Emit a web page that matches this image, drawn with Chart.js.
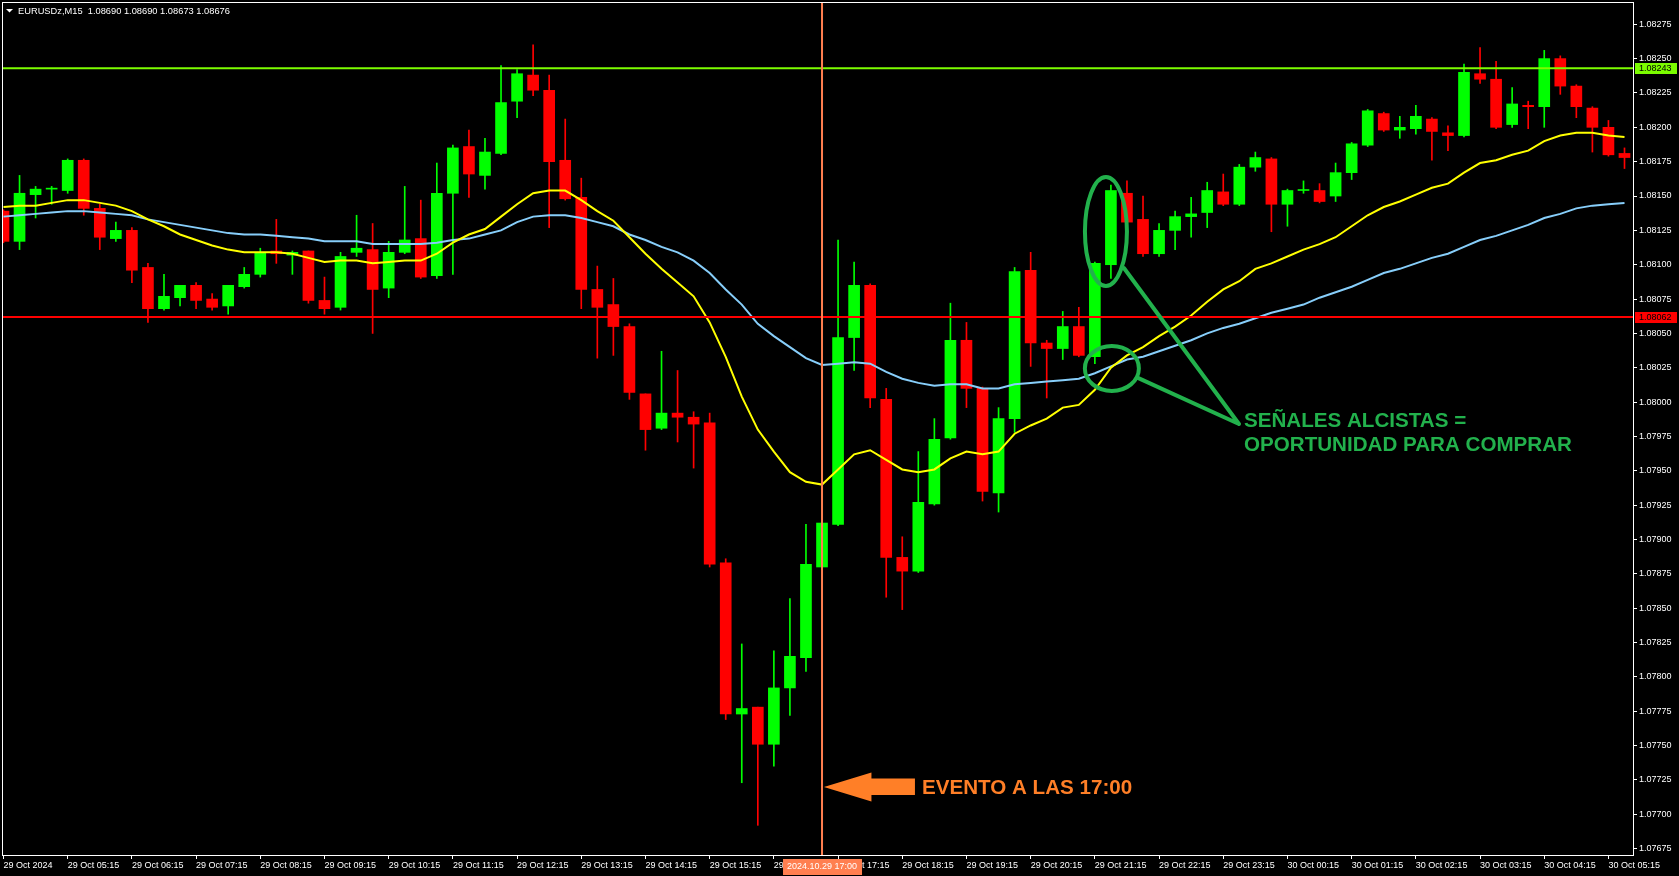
<!DOCTYPE html>
<html lang="es">
<head>
<meta charset="UTF-8">
<title>EURUSDz,M15</title>
<script src="https://cdn.jsdelivr.net/npm/chart.js"></script>
<style>
  html, body { margin: 0; padding: 0; background: #000; overflow: hidden; }
  #chart { display: block; }
</style>
</head>
<body>
<canvas id="chart" width="1679" height="876"></canvas>
<script>
// EURUSD 15 min candles, 29 Oct 2024 04:15 -> 30 Oct 05:30 (one entry per candle)
const opens = [
  1.08139, 1.08117, 1.08151, 1.08155, 1.08154, 1.08176, 1.08141, 1.08119, 1.08125, 1.08098,
  1.08068, 1.08076, 1.08085, 1.08075, 1.08070, 1.08084, 1.08093, 1.08110, 1.08107, 1.08110,
  1.08074, 1.08069, 1.08109, 1.08111, 1.08083, 1.08109, 1.08119, 1.08092, 1.08152, 1.08186,
  1.08165, 1.08181, 1.08219, 1.08238, 1.08227, 1.08176, 1.08149, 1.08082, 1.08071, 1.08055,
  1.08006, 1.07981, 1.07992, 1.07989, 1.07985, 1.07883, 1.07773, 1.07778, 1.07751, 1.07792,
  1.07814, 1.07880, 1.07911, 1.08047, 1.08085, 1.08002, 1.07887, 1.07877, 1.07926, 1.07974,
  1.08045, 1.08010, 1.07934, 1.07988, 1.08096, 1.08043, 1.08039, 1.08055, 1.08033, 1.08100,
  1.08152, 1.08133, 1.08108, 1.08125, 1.08135, 1.08138, 1.08153, 1.08144, 1.08171, 1.08177,
  1.08144, 1.08154, 1.08154, 1.08150, 1.08167, 1.08187, 1.08210, 1.08198, 1.08199, 1.08206,
  1.08196, 1.08194, 1.08239, 1.08235, 1.08202, 1.08216, 1.08215, 1.08250, 1.08230, 1.08214,
  1.08200, 1.08181
];
const highs = [
  1.08140, 1.08165, 1.08157, 1.08157, 1.08177, 1.08177, 1.08144, 1.08131, 1.08127, 1.08101,
  1.08093, 1.08085, 1.08087, 1.08079, 1.08085, 1.08098, 1.08112, 1.08133, 1.08110, 1.08110,
  1.08091, 1.08109, 1.08136, 1.08130, 1.08117, 1.08157, 1.08147, 1.08174, 1.08187, 1.08198,
  1.08192, 1.08245, 1.08242, 1.08260, 1.08238, 1.08206, 1.08163, 1.08099, 1.08090, 1.08057,
  1.08006, 1.08037, 1.08023, 1.07993, 1.07992, 1.07886, 1.07824, 1.07778, 1.07819, 1.07857,
  1.07911, 1.07913, 1.08118, 1.08102, 1.08086, 1.08010, 1.07902, 1.07964, 1.07988, 1.08072,
  1.08058, 1.08011, 1.07996, 1.08098, 1.08109, 1.08045, 1.08066, 1.08069, 1.08102, 1.08158,
  1.08161, 1.08150, 1.08130, 1.08139, 1.08149, 1.08160, 1.08166, 1.08173, 1.08182, 1.08178,
  1.08155, 1.08161, 1.08159, 1.08174, 1.08189, 1.08213, 1.08211, 1.08208, 1.08216, 1.08207,
  1.08201, 1.08246, 1.08258, 1.08248, 1.08229, 1.08219, 1.08256, 1.08252, 1.08231, 1.08215,
  1.08205, 1.08185
];
const lows = [
  1.08116, 1.08111, 1.08134, 1.08144, 1.08152, 1.08136, 1.08111, 1.08117, 1.08087, 1.08058,
  1.08067, 1.08070, 1.08068, 1.08067, 1.08064, 1.08083, 1.08091, 1.08101, 1.08093, 1.08072,
  1.08064, 1.08067, 1.08106, 1.08050, 1.08076, 1.08108, 1.08090, 1.08090, 1.08093, 1.08149,
  1.08155, 1.08180, 1.08207, 1.08223, 1.08127, 1.08147, 1.08068, 1.08032, 1.08034, 1.08002,
  1.07965, 1.07980, 1.07971, 1.07952, 1.07880, 1.07769, 1.07723, 1.07692, 1.07735, 1.07772,
  1.07804, 1.07878, 1.07910, 1.08023, 1.07996, 1.07858, 1.07849, 1.07876, 1.07925, 1.07973,
  1.07996, 1.07928, 1.07920, 1.07978, 1.08026, 1.08003, 1.08031, 1.08033, 1.08028, 1.08090,
  1.08125, 1.08106, 1.08106, 1.08111, 1.08120, 1.08127, 1.08143, 1.08143, 1.08168, 1.08124,
  1.08128, 1.08152, 1.08145, 1.08146, 1.08162, 1.08186, 1.08197, 1.08192, 1.08195, 1.08176,
  1.08183, 1.08193, 1.08232, 1.08199, 1.08200, 1.08199, 1.08200, 1.08224, 1.08207, 1.08182,
  1.08179, 1.08170
];
const closes = [
  1.08117, 1.08152, 1.08155, 1.08155, 1.08176, 1.08141, 1.08120, 1.08125, 1.08096, 1.08068,
  1.08077, 1.08085, 1.08074, 1.08069, 1.08085, 1.08093, 1.08109, 1.08108, 1.08109, 1.08074,
  1.08068, 1.08106, 1.08112, 1.08082, 1.08109, 1.08118, 1.08091, 1.08152, 1.08185, 1.08166,
  1.08182, 1.08218, 1.08239, 1.08227, 1.08175, 1.08148, 1.08082, 1.08069, 1.08055, 1.08007,
  1.07980, 1.07992, 1.07989, 1.07984, 1.07882, 1.07773, 1.07777, 1.07751, 1.07792, 1.07815,
  1.07882, 1.07912, 1.08047, 1.08085, 1.08003, 1.07887, 1.07877, 1.07927, 1.07973, 1.08045,
  1.08010, 1.07935, 1.07988, 1.08095, 1.08043, 1.08039, 1.08055, 1.08034, 1.08101, 1.08154,
  1.08131, 1.08108, 1.08125, 1.08135, 1.08137, 1.08154, 1.08144, 1.08171, 1.08178, 1.08144,
  1.08154, 1.08154, 1.08146, 1.08167, 1.08188, 1.08212, 1.08198, 1.08200, 1.08208, 1.08197,
  1.08194, 1.08240, 1.08235, 1.08200, 1.08217, 1.08215, 1.08250, 1.08230, 1.08215, 1.08200,
  1.08180, 1.08178
];

// moving averages as drawn on the chart (yellow = fast, light blue = slow)
const maFast = [
  1.08142, 1.08143, 1.08143, 1.08145, 1.08147, 1.08147, 1.08145, 1.08143, 1.08139, 1.08133,
  1.08128, 1.08122, 1.08118, 1.08114, 1.08111, 1.08109, 1.08109, 1.08109, 1.08108, 1.08105,
  1.08102, 1.08103, 1.08103, 1.08101, 1.08102, 1.08103, 1.08103, 1.08108, 1.08116, 1.08122,
  1.08126, 1.08135, 1.08144, 1.08152, 1.08154, 1.08154, 1.08147, 1.08139, 1.08132, 1.08120,
  1.08108, 1.08097, 1.08087, 1.08077, 1.08058, 1.08033, 1.08004, 1.07980, 1.07964, 1.07949,
  1.07942, 1.07940, 1.07951, 1.07962, 1.07965, 1.07958, 1.07951, 1.07949, 1.07951, 1.07959,
  1.07964, 1.07962, 1.07964, 1.07977, 1.07983, 1.07988, 1.07996, 1.07998, 1.08009, 1.08025,
  1.08034, 1.08040, 1.08048, 1.08055, 1.08063, 1.08073, 1.08082, 1.08088, 1.08097, 1.08101,
  1.08106, 1.08111, 1.08115, 1.08120, 1.08128, 1.08136, 1.08142, 1.08146, 1.08151, 1.08156,
  1.08159, 1.08167, 1.08174, 1.08176, 1.08180, 1.08183, 1.08190, 1.08194, 1.08196, 1.08196,
  1.08194, 1.08193
];
const maSlow = [
  1.08135, 1.08136, 1.08137, 1.08138, 1.08139, 1.08139, 1.08138, 1.08137, 1.08136, 1.08133,
  1.08131, 1.08129, 1.08127, 1.08125, 1.08123, 1.08122, 1.08122, 1.08121, 1.08120, 1.08119,
  1.08117, 1.08117, 1.08117, 1.08115, 1.08115, 1.08115, 1.08115, 1.08116, 1.08118, 1.08119,
  1.08122, 1.08125, 1.08131, 1.08135, 1.08136, 1.08136, 1.08134, 1.08131, 1.08128, 1.08122,
  1.08118, 1.08113, 1.08109, 1.08103, 1.08094, 1.08082, 1.08071, 1.08057, 1.08048, 1.08040,
  1.08032, 1.08027, 1.08028, 1.08029, 1.08028, 1.08022, 1.08017, 1.08014, 1.08012, 1.08013,
  1.08013, 1.08010, 1.08010, 1.08013, 1.08014, 1.08015, 1.08016, 1.08017, 1.08021, 1.08026,
  1.08031, 1.08033, 1.08037, 1.08041, 1.08045, 1.08050, 1.08054, 1.08057, 1.08061, 1.08065,
  1.08068, 1.08071, 1.08076, 1.08080, 1.08084, 1.08089, 1.08094, 1.08097, 1.08101, 1.08105,
  1.08108, 1.08113, 1.08118, 1.08121, 1.08125, 1.08129, 1.08134, 1.08137, 1.08141, 1.08143,
  1.08144, 1.08145
];

// horizontal levels and the 17:00 event candle
const resistance = 1.08243;
const support = 1.08062;
const eventIndex = 51;
const eventLabel = '2024.10.29 17:00';

// axis labels (x label every 4th candle)
const timeLabels = [
  '29 Oct 2024', '29 Oct 05:15', '29 Oct 06:15', '29 Oct 07:15', '29 Oct 08:15', '29 Oct 09:15',
  '29 Oct 10:15', '29 Oct 11:15', '29 Oct 12:15', '29 Oct 13:15', '29 Oct 14:15', '29 Oct 15:15',
  '29 Oct 16:15', '29 Oct 17:15', '29 Oct 18:15', '29 Oct 19:15', '29 Oct 20:15', '29 Oct 21:15',
  '29 Oct 22:15', '29 Oct 23:15', '30 Oct 00:15', '30 Oct 01:15', '30 Oct 02:15', '30 Oct 03:15',
  '30 Oct 04:15', '30 Oct 05:15'
];
const priceTicks = [
  1.07675, 1.07700, 1.07725, 1.07750, 1.07775, 1.07800, 1.07825, 1.07850, 1.07875, 1.07900,
  1.07925, 1.07950, 1.07975, 1.08000, 1.08025, 1.08050, 1.08075, 1.08100, 1.08125, 1.08150,
  1.08175, 1.08200, 1.08225, 1.08250, 1.08275
];

const UP = '#00FF00';
const DOWN = '#FF0000';
const AXIS_FONT = { family: 'Liberation Sans, Arial, sans-serif', size: 9 };
const X_MIN = -0.093, X_MAX = 101.53;
const Y_MIN = 1.076704, Y_MAX = 1.082912;

const colors = closes.map((c, i) => c >= opens[i] ? UP : DOWN);
const wicks = lows.map((l, i) => ({ x: i, y: [l, highs[i]] }));
const bodies = opens.map((o, i) => ({ x: i, y: [o, closes[i]] }));

// drawn on top of the chart: frame, title, price/time boxes and the hand-drawn notes
const mt4Overlay = {
  id: 'mt4Overlay',
  beforeDraw(chart) {
    const ctx = chart.ctx;
    ctx.save();
    ctx.fillStyle = '#000';
    ctx.fillRect(0, 0, chart.width, chart.height);
    ctx.restore();
  },
  afterDraw(chart) {
    const ctx = chart.ctx;
    const a = chart.chartArea;
    const xs = chart.scales.x, ys = chart.scales.y;
    ctx.save();

    // frame
    ctx.strokeStyle = '#FFFFFF';
    ctx.lineWidth = 1;
    ctx.strokeRect(a.left + 0.5, a.top + 0.5, a.right - a.left, a.bottom - a.top);

    // symbol title
    ctx.fillStyle = '#FFFFFF';
    ctx.beginPath();
    ctx.moveTo(6, 9); ctx.lineTo(13, 9); ctx.lineTo(9.5, 12.5); ctx.closePath();
    ctx.fill();
    ctx.font = '9.3px Liberation Sans, Arial, sans-serif';
    ctx.textBaseline = 'alphabetic';
    ctx.fillText('EURUSDz,M15  1.08690 1.08690 1.08673 1.08676', 18, 14);

    // price boxes for the horizontal lines
    ctx.font = '9px Liberation Sans, Arial, sans-serif';
    [[resistance, '#7CFC00'], [support, '#FF0000']].forEach(([lv, col]) => {
      const y = Math.round(ys.getPixelForValue(lv));
      ctx.fillStyle = col;
      ctx.fillRect(a.right + 2, y - 5, 42, 11);
      ctx.fillStyle = '#000';
      ctx.textBaseline = 'middle';
      ctx.fillText(lv.toFixed(5), a.right + 6, y + 0.5);
    });

    // time box of the vertical line
    const ex = xs.getPixelForValue(eventIndex);
    ctx.fillStyle = '#FF7F50';
    ctx.fillRect(ex - 39, a.bottom + 4, 79, 16);
    ctx.fillStyle = '#FFFFFF';
    ctx.textAlign = 'center';
    ctx.textBaseline = 'middle';
    ctx.fillText(eventLabel, ex, a.bottom + 12);
    ctx.textAlign = 'left';

    // green notes: circles over the signal candle and the MA cross
    const P = (i, p) => [xs.getPixelForValue(i), ys.getPixelForValue(p)];
    const green = '#22B14C';
    ctx.strokeStyle = green;
    ctx.lineWidth = 4;
    ctx.lineCap = 'round';
    const [e1x, e1y] = P(68.69, 1.081242);
    const [e2x, e2y] = P(69.06, 1.080245);
    ctx.beginPath(); ctx.ellipse(e1x, e1y, 21, 54.5, 0, 0, Math.PI * 2); ctx.stroke();
    ctx.beginPath(); ctx.ellipse(e2x, e2y, 27, 22.5, 0, 0, Math.PI * 2); ctx.stroke();
    const [tx, ty] = P(76.98, 1.079841);
    const [l1x, l1y] = P(69.81, 1.080976);
    const [l2x, l2y] = P(70.68, 1.080176);
    ctx.beginPath();
    ctx.moveTo(l1x, l1y); ctx.lineTo(tx, ty);
    ctx.moveTo(l2x, l2y); ctx.lineTo(tx, ty);
    ctx.stroke();
    ctx.fillStyle = green;
    ctx.font = 'bold 20.6px Liberation Sans, Arial, sans-serif';
    ctx.textBaseline = 'alphabetic';
    ctx.fillText('SEÑALES ALCISTAS =', tx + 5, ty + 3.5);
    ctx.fillText('OPORTUNIDAD PARA COMPRAR', tx + 5, ty + 27);

    // orange arrow pointing at the 17:00 line
    const orange = '#FF7F27';
    const [ax, ay] = P(51.12, 1.077199);
    ctx.fillStyle = orange;
    ctx.beginPath();
    ctx.moveTo(ax, ay);
    ctx.lineTo(ax + 47.5, ay - 14.5);
    ctx.lineTo(ax + 47.5, ay - 8.5);
    ctx.lineTo(ax + 91, ay - 8.5);
    ctx.lineTo(ax + 91, ay + 8);
    ctx.lineTo(ax + 47.5, ay + 8);
    ctx.lineTo(ax + 47.5, ay + 14.5);
    ctx.closePath();
    ctx.fill();
    ctx.fillText('EVENTO A LAS 17:00', ax + 98, ay + 7.5);

    ctx.restore();
  }
};

new Chart(document.getElementById('chart').getContext('2d'), {
  data: {
    datasets: [
      {
        type: 'line', order: 1,
        data: [{ x: eventIndex, y: Y_MIN }, { x: eventIndex, y: Y_MAX }],
        borderColor: '#FF7F50', borderWidth: 2, pointRadius: 0
      },
      {
        type: 'line', order: 2,
        data: [{ x: X_MIN, y: resistance }, { x: X_MAX, y: resistance }],
        borderColor: '#7CFC00', borderWidth: 2, pointRadius: 0
      },
      {
        type: 'line', order: 2,
        data: [{ x: X_MIN, y: support }, { x: X_MAX, y: support }],
        borderColor: '#FF0000', borderWidth: 2, pointRadius: 0
      },
      {
        type: 'line', order: 3,
        data: maFast.map((v, i) => ({ x: i, y: v })),
        borderColor: '#FFFF00', borderWidth: 2, pointRadius: 0, tension: 0
      },
      {
        type: 'line', order: 4,
        data: maSlow.map((v, i) => ({ x: i, y: v })),
        borderColor: '#87CEFA', borderWidth: 2, pointRadius: 0, tension: 0
      },
      {
        type: 'bar', order: 5, grouped: false,
        data: bodies,
        backgroundColor: colors, borderWidth: 0,
        barThickness: 11, minBarLength: 1
      },
      {
        type: 'bar', order: 6, grouped: false,
        data: wicks,
        backgroundColor: colors, borderWidth: 0,
        barThickness: 1, minBarLength: 1
      }
    ]
  },
  options: {
    responsive: false,
    animation: false,
    devicePixelRatio: 1,
    layout: { padding: { left: 2, top: 2, right: 0, bottom: 0 } },
    plugins: { legend: { display: false }, tooltip: { enabled: false } },
    scales: {
      x: {
        type: 'linear', min: X_MIN, max: X_MAX, offset: false,
        afterBuildTicks: s => { s.ticks = timeLabels.map((_, k) => ({ value: k * 4 })); },
        afterFit: s => { s.height = 21; s.paddingLeft = 0; s.paddingRight = 0; },
        ticks: {
          color: '#FFFFFF', font: AXIS_FONT, align: 'start', padding: 1,
          autoSkip: false, maxRotation: 0,
          callback: v => timeLabels[Math.round(v / 4)]
        },
        grid: { drawOnChartArea: false, color: '#FFFFFF', tickLength: 4, offset: false },
        border: { display: false }
      },
      y: {
        type: 'linear', position: 'right', min: Y_MIN, max: Y_MAX,
        afterBuildTicks: s => { s.ticks = priceTicks.map(v => ({ value: v })); },
        afterFit: s => { s.width = 46; s.paddingTop = 0; s.paddingBottom = 0; },
        ticks: {
          color: '#FFFFFF', font: AXIS_FONT, padding: 2,
          callback: v => v.toFixed(5)
        },
        grid: { drawOnChartArea: false, color: '#FFFFFF', tickLength: 4 },
        border: { display: false }
      }
    }
  },
  plugins: [mt4Overlay]
});
</script>
</body>
</html>
